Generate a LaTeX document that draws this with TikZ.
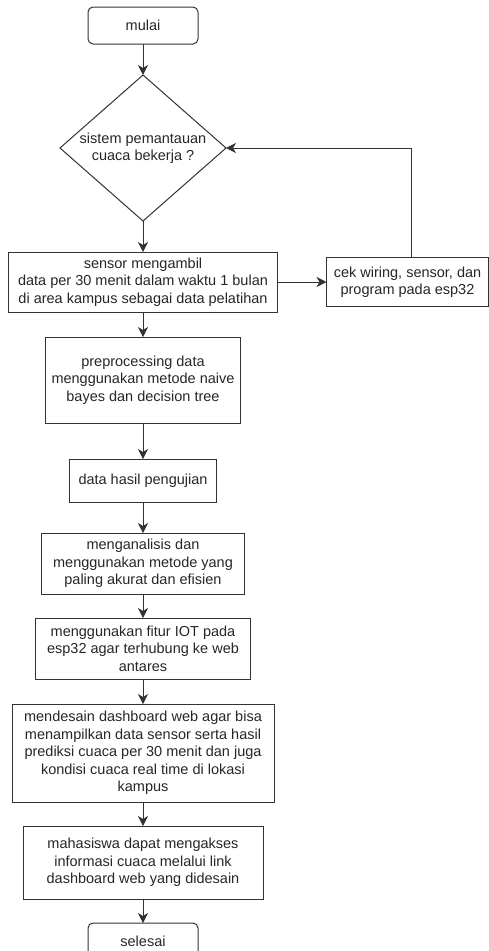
\documentclass[tikz,border=0pt]{standalone}
\usepackage{fontspec}
\setmainfont{Liberation Sans}
\usepackage{tikz}
\usetikzlibrary{shapes.geometric, arrows.meta, positioning}
\tikzstyle{startstop} = [rectangle, rounded corners=5pt, minimum width=110pt, minimum height=37pt, outer sep=0pt, text centered, align=center, draw=black!80, line width=1pt, text=black!85]
\tikzstyle{process} = [rectangle, inner sep=4pt, outer sep=0pt, text centered, align=center, draw=black!80, line width=1pt, text=black!85]
\tikzstyle{decision} = [diamond, shape aspect=1.15, inner sep=0pt, outer sep=0pt, minimum width=166pt, minimum height=146pt, text centered, align=center, draw=black!80, line width=1pt, text=black!85]
\tikzstyle{arrow} = [line width=1pt, draw=black!80, -{Stealth[length=10pt, width=10pt, inset=3pt]}]

\begin{document}
\begin{tikzpicture}[x=1pt, y=1pt, node distance=24pt, font=\fontsize{14.5}{17.5}\selectfont]
\useasboundingbox (0,0) rectangle (489,-951);
\clip (0,0) rectangle (489,-951);

\node (start) [startstop] at (143,-25.5) {mulai};
\node (dec1) [decision, below=31pt of start] {sistem pemantauan\\cuaca bekerja ?};
\node (sensor) [process, below=31pt of dec1, minimum width=269pt, minimum height=60pt] {sensor mengambil\\data per 30 menit dalam waktu 1 bulan\\di area kampus sebagai data pelatihan};
\node (cek) [process, right=49pt of sensor, minimum width=162pt, minimum height=49pt] {cek wiring, sensor, dan\\program pada esp32};
\node (pro1) [process, below=25pt of sensor, minimum width=195pt, minimum height=86pt] {preprocessing data\\menggunakan metode naive\\bayes dan decision tree};
\node (pro2) [process, below=36pt of pro1, minimum width=147pt, minimum height=43pt] {data hasil pengujian};
\node (pro3) [process, below=31pt of pro2, minimum width=203pt, minimum height=61pt] {menganalisis dan\\menggunakan metode yang\\paling akurat dan efisien};
\node (pro4) [process, below=of pro3, minimum width=215pt, minimum height=61pt] {menggunakan fitur IOT pada\\esp32 agar terhubung ke web\\antares};
\node (pro5) [process, below=25pt of pro4, minimum width=262pt, minimum height=98pt] {mendesain dashboard web agar bisa\\menampilkan data sensor serta hasil\\prediksi cuaca per 30 menit dan juga\\kondisi cuaca real time di lokasi\\kampus};
\node (pro6) [process, below=of pro5, minimum width=240pt, minimum height=73pt] {mahasiswa dapat mengakses\\informasi cuaca melalui link\\dashboard web yang didesain};
\node (stop) [startstop, below=of pro6] {selesai};

\draw [arrow] (start) -- (dec1);
\draw [arrow] (dec1) -- (sensor);
\draw [arrow] (sensor) -- (cek);
\draw [arrow] ([xshift=4pt]cek.north) |- (dec1.east);
\draw [arrow] (sensor) -- (pro1);
\draw [arrow] (pro1) -- (pro2);
\draw [arrow] (pro2) -- (pro3);
\draw [arrow] (pro3) -- (pro4);
\draw [arrow] (pro4) -- (pro5);
\draw [arrow] (pro5) -- (pro6);
\draw [arrow] (pro6) -- (stop);

\end{tikzpicture}
\end{document}
